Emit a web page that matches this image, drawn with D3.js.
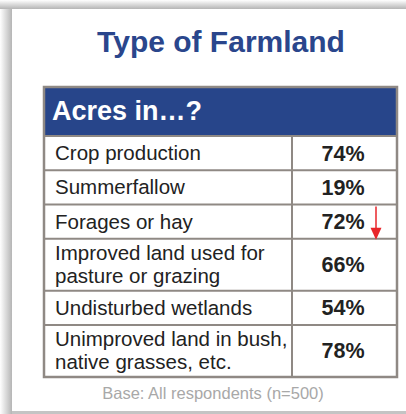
<!DOCTYPE html>
<html>
<head>
<meta charset="utf-8">
<script src="https://cdn.jsdelivr.net/npm/d3@7"></script>
<style>
  body { margin: 0; background: #fff; }
  svg { display: block; font-family: "Liberation Sans", Arial, sans-serif; }
</style>
</head>
<body>
<div id="chart-area"></div>
<script>
// data
var title = "Type of Farmland";
var header = "Acres in\u2026?";
var categories = [
    ["Crop production"],
    ["Summerfallow"],
    ["Forages or hay"],
    ["Improved land used for", "pasture or grazing"],
    ["Undisturbed wetlands"],
    ["Unimproved land in bush,", "native grasses, etc."]
];
var values = [74, 19, 72, 66, 54, 78];
var arrows = ["", "", "down", "", "", ""];
var footnote = "Base: All respondents (n=500)";

var W = 406, H = 414;

var svg = d3.select("#chart-area")
    .append("svg")
    .attr("width", W)
    .attr("height", H);

// slide frame shadow
var defs = svg.append("defs");
var gl = defs.append("linearGradient").attr("id", "shL").attr("x1", 0).attr("x2", 1).attr("y1", 0).attr("y2", 0);
gl.append("stop").attr("offset", "0%").attr("stop-color", "#fff");
gl.append("stop").attr("offset", "100%").attr("stop-color", "#b5b5b5");
var gt = defs.append("linearGradient").attr("id", "shT").attr("x1", 0).attr("x2", 0).attr("y1", 0).attr("y2", 1);
gt.append("stop").attr("offset", "0%").attr("stop-color", "#fff");
gt.append("stop").attr("offset", "100%").attr("stop-color", "#b5b5b5");

svg.append("rect").attr("x", 0).attr("y", 0).attr("width", W).attr("height", H).attr("fill", "#fff");
svg.append("rect").attr("x", 0).attr("y", 0).attr("width", 12).attr("height", H).attr("fill", "url(#shL)");
svg.append("rect").attr("x", 0).attr("y", 0).attr("width", W).attr("height", 9).attr("fill", "url(#shT)");
svg.append("rect").attr("x", 12).attr("y", 9).attr("width", W - 12).attr("height", 402).attr("fill", "#fff");
svg.append("rect").attr("x", 12).attr("y", 411).attr("width", W - 12).attr("height", 3).attr("fill", "#c4c4c4");

// title
svg.append("text")
    .attr("x", 221)
    .attr("y", 52)
    .attr("text-anchor", "middle")
    .attr("font-size", 30)
    .attr("font-weight", "bold")
    .attr("fill", "#2a468c")
    .text(title);

// table geometry
var tLeft = 44, tRight = 397, divider = 292;
var tTop = 87, headH = 49, tBottom = 377;

// row heights proportional to line count
var units = categories.map(function(c) { return c.length === 1 ? 1 : 1.52; });
var cum = [0];
units.forEach(function(u, i) { cum.push(cum[i] + u); });

var y = d3.scaleLinear()
    .domain([0, cum[cum.length - 1]])
    .range([tTop + headH, tBottom]);

var g = svg.append("g");

// header
g.append("rect")
    .attr("x", tLeft)
    .attr("y", tTop)
    .attr("width", tRight - tLeft)
    .attr("height", headH)
    .attr("fill", "#27458a");

g.append("text")
    .attr("x", tLeft + 8)
    .attr("y", tTop + 33)
    .attr("font-size", 27)
    .attr("font-weight", "bold")
    .attr("fill", "#fff")
    .text(header);

var rows = g.selectAll(".row")
    .data(categories)
    .enter().append("g")
    .attr("class", "row");

rows.append("rect")
    .attr("x", tLeft)
    .attr("y", function(d, i) { return y(cum[i]); })
    .attr("width", tRight - tLeft)
    .attr("height", function(d, i) { return y(cum[i + 1]) - y(cum[i]); })
    .attr("fill", "#fff");

rows.each(function(d, i) {
    var mid = (y(cum[i]) + y(cum[i + 1])) / 2;
    var t = d3.select(this).append("text")
        .attr("x", tLeft + 11)
        .attr("font-size", 20.5)
        .attr("fill", "#222");
    d.forEach(function(line, k) {
        t.append("tspan")
            .attr("x", tLeft + 11)
            .attr("y", mid + 7 + (k - (d.length - 1) / 2) * 23)
            .text(line);
    });
    d3.select(this).append("text")
        .attr("x", (divider + tRight) / 2 - 1.5)
        .attr("y", mid + 7.5)
        .attr("text-anchor", "middle")
        .attr("font-size", 21.5)
        .attr("font-weight", "bold")
        .attr("fill", "#222")
        .text(values[i] + "%");
});

// grid lines
var lineColor = "#8f8984";
g.selectAll(".hline")
    .data(cum.slice(0, cum.length - 1))
    .enter().append("line")
    .attr("x1", tLeft)
    .attr("x2", tRight)
    .attr("y1", function(d) { return y(d); })
    .attr("y2", function(d) { return y(d); })
    .attr("stroke", lineColor)
    .attr("stroke-width", 2);

g.append("line")
    .attr("x1", divider).attr("x2", divider)
    .attr("y1", tTop + headH).attr("y2", tBottom)
    .attr("stroke", lineColor)
    .attr("stroke-width", 2);

g.append("rect")
    .attr("x", tLeft)
    .attr("y", tTop)
    .attr("width", tRight - tLeft)
    .attr("height", tBottom - tTop)
    .attr("fill", "none")
    .attr("stroke", lineColor)
    .attr("stroke-width", 2.5);

// red arrows for significant change
arrows.forEach(function(a, i) {
    if (a !== "down") return;
    var y0 = y(cum[i]) + 2, y1 = y(cum[i + 1]) + 1;
    var ax = 376;
    g.append("line")
        .attr("x1", ax).attr("x2", ax)
        .attr("y1", y0).attr("y2", y1 - 10)
        .attr("stroke", "#e8262b")
        .attr("stroke-width", 1.5);
    g.append("path")
        .attr("d", "M" + (ax - 5.5) + "," + (y1 - 12) + "L" + (ax + 5.5) + "," + (y1 - 12) + "L" + ax + "," + y1 + "Z")
        .attr("fill", "#e8262b");
});

// footnote
svg.append("text")
    .attr("x", 213)
    .attr("y", 399)
    .attr("text-anchor", "middle")
    .attr("font-size", 16.5)
    .attr("fill", "#a8a8a8")
    .text(footnote);
</script>
</body>
</html>
